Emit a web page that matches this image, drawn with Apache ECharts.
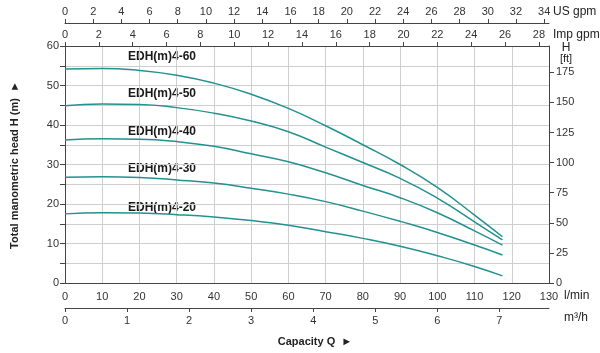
<!DOCTYPE html>
<html>
<head>
<meta charset="utf-8">
<script src="https://cdn.jsdelivr.net/npm/echarts@6/dist/echarts.min.js"></script>
<style>
    html, body { margin: 0; padding: 0; background: #fff; }
    #main { width: 600px; height: 353px; }
</style>
</head>
<body>
<div id="main"></div>
<script>
// capacity Q in l/min, head H in m
const flow = [0, 10, 20, 30, 40, 50, 60, 70, 80, 90, 100, 110, 117.5];
const models = ['EDH(m)4-60', 'EDH(m)4-50', 'EDH(m)4-40', 'EDH(m)4-30', 'EDH(m)4-20'];
const head60 = [54.2, 54.3, 53.8, 52.6, 50.6, 47.8, 44.2, 39.8, 35.0, 30.0, 24.2, 17.2, 11.7];
const head50 = [44.9, 45.3, 45.2, 44.4, 43.0, 41.0, 38.3, 34.4, 30.5, 26.5, 21.5, 15.5, 10.9];
const head40 = [36.2, 36.5, 36.4, 35.8, 34.6, 32.7, 30.7, 27.9, 24.7, 21.6, 17.8, 13.2, 9.6];
const head30 = [26.8, 26.9, 26.7, 26.1, 25.3, 24.0, 22.5, 20.6, 18.2, 15.6, 12.8, 9.6, 7.1];
const head20 = [17.5, 17.8, 17.7, 17.3, 16.7, 15.8, 14.6, 13.0, 11.3, 9.3, 6.9, 4.2, 1.8];

// tick labels of the secondary scales
const usGpmTicks = [0, 2, 4, 6, 8, 10, 12, 14, 16, 18, 20, 22, 24, 26, 28, 30, 32, 34];
const impGpmTicks = [0, 2, 4, 6, 8, 10, 12, 14, 16, 18, 20, 22, 24, 26, 28];
const m3hTicks = [0, 1, 2, 3, 4, 5, 6, 7];
const ftTicks = [0, 25, 50, 75, 100, 125, 150, 175];
const mLabels = [0, 10, 20, 30, 40, 50, 60];

const qMax = 130;
const hMax = 60;

const font = '"Liberation Sans", Arial, sans-serif';
const axisColor = '#444';
const lineColor = '#23918f';

const labelStyle = { color: '#333', fontSize: 11, fontFamily: font };

function secondaryAxis (position, offset, max, ticks, margin) {
    return {
        type: 'value',
        position: position,
        offset: offset,
        min: 0,
        max: max,
        axisLine: { show: true, onZero: false, lineStyle: { color: axisColor } },
        axisTick: { show: true, length: 4, customValues: ticks, lineStyle: { color: axisColor } },
        axisLabel: Object.assign({ customValues: ticks, margin: margin }, labelStyle),
        splitLine: { show: false }
    };
}

const heads = [head60, head50, head40, head30, head20];
const labelY = [57, 94, 132, 169, 208];

let myChart = echarts.init(document.getElementById('main'));
myChart.setOption({
    animation: false,
    textStyle: { fontFamily: font },
    grid: { left: 65, right: 51, top: 46, bottom: 70 },
    xAxis: [
        {
            type: 'value',
            position: 'bottom',
            min: 0,
            max: qMax,
            interval: 10,
            axisLine: { show: true, onZero: false, lineStyle: { color: axisColor } },
            axisTick: { show: false },
            axisLabel: Object.assign({ margin: 8 }, labelStyle),
            splitLine: { show: true, lineStyle: { color: '#cfcfcf' } }
        },
        secondaryAxis('bottom', 25, qMax * 60 / 1000, m3hTicks, 7),
        secondaryAxis('top', 0, qMax / 4.54609, impGpmTicks, 6),
        secondaryAxis('top', 23, qMax / 3.785411, usGpmTicks, 6)
    ],
    yAxis: [
        {
            type: 'value',
            position: 'left',
            min: 0,
            max: hMax,
            interval: 5,
            axisLine: { show: true, onZero: false, lineStyle: { color: axisColor } },
            axisTick: { show: true, length: 5, lineStyle: { color: axisColor } },
            axisLabel: Object.assign({ customValues: mLabels, margin: 6 }, labelStyle),
            splitLine: { show: true, lineStyle: { color: '#cfcfcf' } }
        },
        {
            type: 'value',
            position: 'right',
            min: 0,
            max: hMax / 0.3048,
            axisLine: { show: true, onZero: false, lineStyle: { color: axisColor } },
            axisTick: { show: true, length: 5, customValues: ftTicks, lineStyle: { color: axisColor } },
            axisLabel: Object.assign({ customValues: ftTicks, margin: 7 }, labelStyle),
            splitLine: { show: false }
        }
    ],
    series: heads.map((h, i) => ({
        name: models[i],
        type: 'line',
        smooth: true,
        showSymbol: false,
        xAxisIndex: 0,
        yAxisIndex: 0,
        lineStyle: { color: lineColor, width: 1.5 },
        data: flow.map((q, k) => [q, h[k]])
    })),
    graphic: [
        { type: 'text', x: 553, y: 12, style: { text: 'US gpm', fontSize: 12, fill: '#222', font: '12px ' + font, verticalAlign: 'middle' } },
        { type: 'text', x: 553, y: 35, style: { text: 'Imp gpm', fontSize: 12, fill: '#222', font: '12px ' + font, verticalAlign: 'middle' } },
        { type: 'text', x: 566, y: 48, style: { text: 'H', fill: '#222', font: '12px ' + font, align: 'center', verticalAlign: 'middle' } },
        { type: 'text', x: 566, y: 59, style: { text: '[ft]', fill: '#222', font: '11px ' + font, align: 'center', verticalAlign: 'middle' } },
        { type: 'text', x: 564, y: 296, style: { text: 'l/min', fill: '#222', font: '12px ' + font, verticalAlign: 'middle' } },
        { type: 'text', x: 564, y: 318, style: { text: 'm³/h', fill: '#222', font: '12px ' + font, verticalAlign: 'middle' } },
        { type: 'text', x: 315, y: 342, style: { text: 'Capacity Q  ►', fill: '#222', font: 'bold 11px ' + font, align: 'center', verticalAlign: 'middle' } },
        { type: 'text', x: 15, y: 165, rotation: Math.PI / 2, style: { text: 'Total manometric head H (m)  ►', fill: '#222', font: 'bold 11px ' + font, align: 'center', verticalAlign: 'middle' } }
    ].concat(models.map((m, i) => ({
        type: 'text',
        x: 128,
        y: labelY[i],
        style: { text: m, fill: '#1a1a1a', font: 'bold 12px ' + font, verticalAlign: 'middle' }
    })))
});
</script>
</body>
</html>
